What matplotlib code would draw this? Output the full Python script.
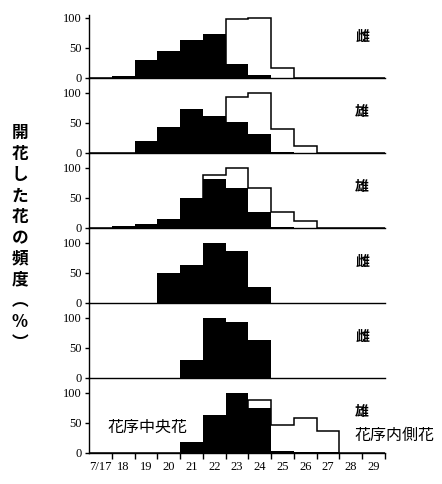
import matplotlib
matplotlib.use("Agg")
from matplotlib import pyplot as plt
import numpy as np

# days 7/17 .. 7/29
days = list(range(17, 30))
day_labels = ["7/17"] + [str(d) for d in range(18, 30)]

# black bars: central flowers of the inflorescence (花序中央花)
central_1 = [0, 2, 29, 45, 63, 72, 23, 4, 0, 0, 0, 0, 0]
central_2 = [0, 0, 20, 43, 73, 62, 51, 31, 2, 0, 0, 0, 0]
central_3 = [0, 3, 6, 14, 50, 82, 67, 27, 2, 0, 0, 0, 0]
central_4 = [0, 0, 0, 49, 63, 99, 86, 27, 0, 0, 0, 0, 0]
central_5 = [0, 0, 0, 0, 29, 99, 93, 63, 0, 0, 0, 0, 0]
central_6 = [0, 0, 0, 0, 18, 63, 100, 74, 3, 2, 1, 0, 0]

# open bars: inner flowers (花序内側花)
inner_1 = [0, 0, 0, 0, 0, 0, 97, 100, 16, 0, 0, 0, 0]
inner_2 = [0, 0, 0, 0, 0, 0, 93, 100, 40, 11, 0, 0, 0]
inner_3 = [0, 0, 0, 0, 0, 88, 100, 67, 27, 11, 0, 0, 0]
inner_6 = [0, 0, 0, 0, 0, 0, 0, 88, 46, 58, 36, 0, 0]

central = [central_1, central_2, central_3, central_4, central_5, central_6]
inner = [inner_1, inner_2, inner_3, None, None, inner_6]
sex_labels = ["雌", "雄", "雄", "雌", "雌", "雄"]

cjk = ["Noto Sans CJK JP", "DejaVu Sans"]
serif = "Liberation Serif"

W, H = 442, 484
fig = plt.figure(figsize=(W / 100, H / 100), dpi=100)

edges = np.arange(16.5, 30.0, 1.0)
for k in range(6):
    base = 77.7 + 75 * k
    ax = fig.add_axes([89 / W, (H - base) / H, 296 / W, 75 / H])
    ax.patch.set_visible(False)
    ax.set_xlim(16.5, 29.5)
    ax.set_ylim(0, 125)
    for s in ["top", "right"]:
        ax.spines[s].set_visible(False)
    ax.spines["left"].set_linewidth(1.0)
    ax.spines["bottom"].set_linewidth(1.0)
    if k == 0:
        ax.spines["left"].set_bounds(0, 104)

    if inner[k] is not None:
        ax.stairs(inner[k], edges, color="black", linewidth=1.1, zorder=1)
    ax.bar(days, central[k], width=1.0, color="black", linewidth=0, zorder=2)

    ax.set_yticks([0, 50, 100])
    ax.set_yticklabels(["0", "50", "100"], fontfamily=serif, fontsize=9)
    ax.tick_params(axis="y", direction="out", length=3, width=1.0, pad=2)

    ax.text(28.5, 68, sex_labels[k], ha="center", va="center",
            family=cjk, fontsize=10, fontweight="bold")

    if k < 5:
        ax.set_xticks([])
    else:
        ax.set_xticks(edges[1:])
        ax.set_xticklabels([])
        ax.set_xticks(days, minor=True)
        ax.set_xticklabels(day_labels, minor=True, fontfamily=serif, fontsize=9)
        ax.tick_params(axis="x", which="major", direction="out", length=4, width=1.0)
        ax.tick_params(axis="x", which="minor", length=0, pad=6)
        ax.text(19.07, 43, "花序中央花", ha="center", va="center",
                family=cjk, fontsize=11.5)
        ax.text(29.9, 28, "花序内側花", ha="center", va="center",
                family=cjk, fontsize=11.5, clip_on=False)

ylabel = "\n".join(["開", "花", "し", "た", "花", "の", "頻", "度", "︵", "%", "︶"])
fig.text(20 / W, 1 - 238 / H, ylabel, ha="center", va="center",
         family=cjk, fontsize=12, fontweight="bold", linespacing=1.21)

fig.savefig("out.png", dpi=100)
plt.close(fig)
